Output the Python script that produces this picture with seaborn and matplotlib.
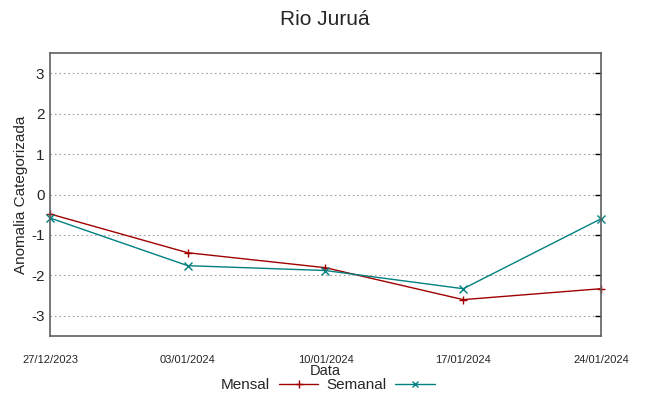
import matplotlib
matplotlib.use("Agg")
import matplotlib.pyplot as plt
import seaborn as sns
import pandas as pd
import numpy as np
from matplotlib.lines import Line2D

dates = ["27/12/2023", "03/01/2024", "10/01/2024", "17/01/2024", "24/01/2024"]
mensal = [-0.48, -1.44, -1.81, -2.60, -2.33]
semanal = [-0.58, -1.76, -1.88, -2.33, -0.60]
yticks = [-3, -2, -1, 0, 1, 2, 3]

sns.set_theme(style="white")
plt.rcParams['font.family'] = ['Liberation Sans', 'DejaVu Sans']

d = pd.to_datetime(dates, format="%d/%m/%Y")
df = pd.DataFrame({
    "Data": list(d) * 2,
    "valor": mensal + semanal,
    "serie": ["Mensal"] * len(dates) + ["Semanal"] * len(dates),
})

fig = plt.figure(figsize=(6.49, 3.96), dpi=100)
ax = fig.add_axes([0.077, 0.1515, 0.849, 0.7145])

palette = {"Mensal": "#a00000", "Semanal": "#008080"}
sns.lineplot(data=df, x="Data", y="valor", hue="serie", style="serie",
             palette=palette, markers={"Mensal": "+", "Semanal": "x"},
             dashes=False, markersize=5.5, linewidth=1, markeredgewidth=1,
             ax=ax, legend=False)
for ln in ax.lines:
    ln.set_markeredgecolor(ln.get_color())
    ln.set_clip_on(False)

ax.set_xlim(d[0], d[-1])
ax.set_ylim(-3.5, 3.5)
ax.set_xticks(d)
ax.set_xticklabels(dates, fontsize=8)
ax.set_yticks(yticks)
ax.set_yticklabels([str(v) for v in yticks], fontsize=11)
ax.grid(True, axis="y", linestyle=(0, (1.5, 2.5)), color="#a0a0a0", linewidth=0.8)
ax.tick_params(direction="in", right=True, top=False, length=4, width=1, color="#000000", pad=4)
ax.tick_params(axis="x", pad=14, length=0)
for s in ax.spines.values():
    s.set_color("#606060")
    s.set_linewidth(1.2)

ax.set_xlabel("Data", fontsize=10.5, labelpad=-1)
ax.set_ylabel("Anomalia Categorizada", fontsize=11, labelpad=2)
fig.suptitle("Rio Juruá", fontsize=15, y=0.975)

handles = [Line2D([], [], color="#a00000", marker="+", markersize=6, lw=1),
           Line2D([], [], color="#008080", marker="x", markersize=5, lw=1)]
fig.legend(handles, ["Mensal", "Semanal"], loc="center", bbox_to_anchor=(0.505, 0.027),
           ncol=2, frameon=False, markerfirst=False, fontsize=11, handlelength=2.6,
           columnspacing=0.5, handletextpad=0.6, borderpad=0)

fig.savefig("out.png", dpi=100)
